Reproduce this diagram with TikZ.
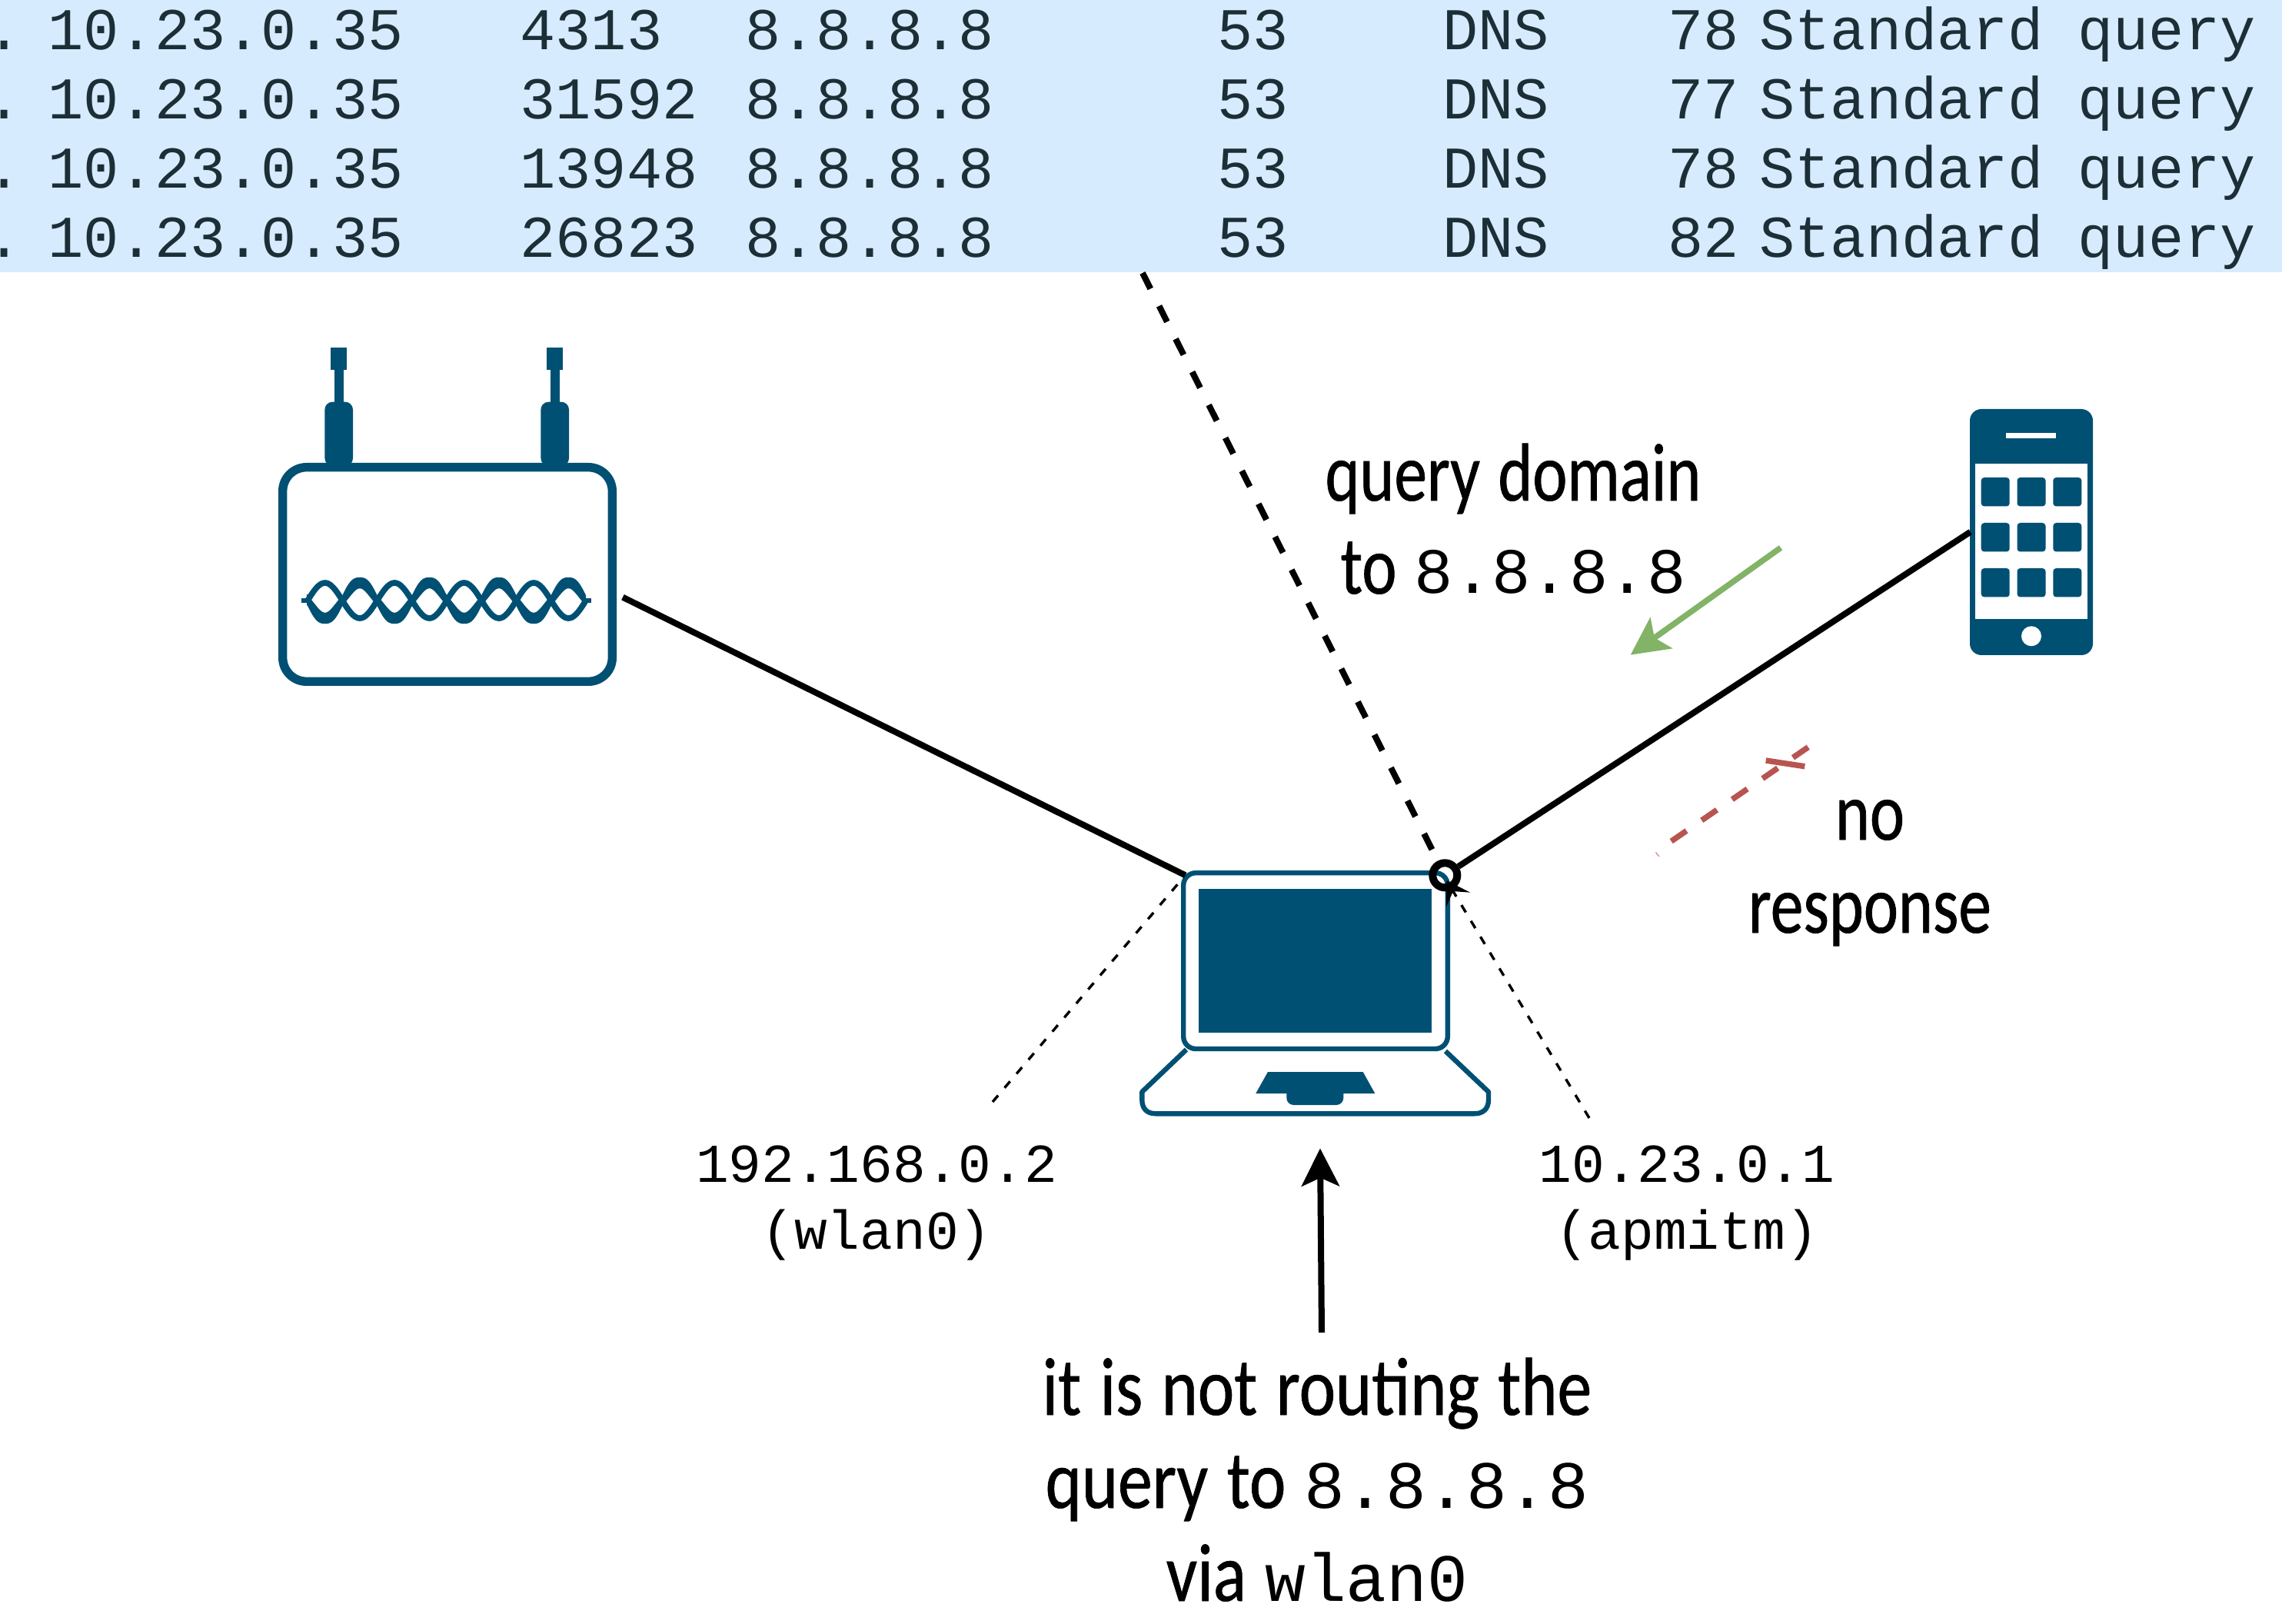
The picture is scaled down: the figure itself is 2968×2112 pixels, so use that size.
\documentclass[tikz,border=0pt]{standalone}
\usepackage{fontspec}
\setmainfont{Carlito}
\setmonofont{Liberation Mono}
\newfontfamily\handfont[FakeStretch=0.84,FakeBold=0.6,WordSpace=1.2]{Carlito}
\newfontfamily\handnarrow[FakeStretch=0.8,FakeBold=0.6,WordSpace=1.2]{Carlito}
\usetikzlibrary{arrows.meta}
\definecolor{iconblue}{HTML}{005073}
\definecolor{rowblue}{HTML}{D7EBFF}
\definecolor{rowtext}{HTML}{1C2E36}
\definecolor{greenarrow}{HTML}{82B366}
\definecolor{redline}{HTML}{B85450}
\tikzset{
  x=0.5pt,y=-0.5pt,
  declare function={tw(\x)=cos((\x-422.7)/45.24*180); tc(\x)=sin((\x-422.7)/45.24*180); th(\x)=(3.6+3.6*abs(tw(\x)))*sqrt(1+2.56*tc(\x)*tc(\x));},
  cell/.style={anchor=base west,inner sep=0pt,text=rowtext,font=\ttfamily\fontsize{38.5}{46}\selectfont},
  handlabel/.style={anchor=base,inner sep=0pt,align=center,font=\handfont\fontsize{53.5}{60.5}\selectfont},
  narrowlabel/.style={anchor=base,inner sep=0pt,align=center,font=\handnarrow\fontsize{53.5}{60.5}\selectfont},
  iplabel/.style={anchor=base,inner sep=0pt,align=center,font=\ttfamily\fontsize{35.6}{43.5}\selectfont},
  iconline/.style={draw=iconblue,line width=3.2pt,fill=none},
  wire/.style={draw=black,line width=4pt},
  thinwire/.style={draw=black,line width=1.7pt,dash pattern=on 5.5pt off 6.5pt},
  bigtip/.style={-{Stealth[length=24.5pt,width=24.5pt,inset=5.4pt]}},
  smalltip/.style={-{Stealth[length=14.5pt,width=18pt,inset=6.3pt]}},
}
\newcommand{\ipmono}[2]{{\ttfamily\fontsize{#1}{60.5}\selectfont #2}}
\begin{document}
\begin{tikzpicture}
\useasboundingbox (0,0) rectangle (2968,2112);
% packet table
\fill[rowblue] (0,0) rectangle (2968,354);
\foreach \yy/\sport/\len in {65/4313/78,155/31592/77,245/13948/78,335/26823/82}{
  \node[cell] at (-18,\yy) {.};
  \node[cell] at (62,\yy) {10.23.0.35};
  \node[cell] at (676,\yy) {\sport};
  \node[cell] at (969,\yy) {8.8.8.8};
  \node[cell] at (1583,\yy) {53};
  \node[cell] at (1876,\yy) {DNS};
  \node[cell] at (2169,\yy) {\len};
  \node[cell] at (2288,\yy) {Standard};
  \node[cell] at (2702,\yy) {query};
}
% router
\node[draw=iconblue,line width=5.7pt,rounded corners=15.5pt,minimum width=214.3pt,minimum height=139.3pt,inner sep=0pt] (router) at (582,747) {};
\foreach \ax in {440.7,721.7}{
  \fill[iconblue] (\ax-10.5,452) rectangle (\ax+10.5,481);
  \fill[iconblue] (\ax-6,480) rectangle (\ax+6,525);
  \fill[iconblue,rounded corners=5pt] (\ax-18.3,606) -- (\ax-18.3,522.7) -- (\ax+18.3,522.7) -- (\ax+18.3,606) -- cycle;
}
\draw[draw=iconblue,line width=3.8pt] plot[domain=400:762,samples=220] (\x,{781-23*tw(\x)});
\fill[iconblue] plot[domain=399:762,samples=220] (\x,{781+23*tw(\x)-th(\x)}) -- plot[domain=762:399,samples=220] (\x,{781+23*tw(\x)+th(\x)}) -- cycle;
\fill[iconblue] (392,778) rectangle (402,784);
\fill[iconblue] (759,778) rectangle (769,784);
% phone
\node[fill=iconblue,rounded corners=7.5pt,minimum width=80pt,minimum height=160pt,inner sep=0pt] (phone) at (2642,692) {};
\fill[white] (2609,562.7) rectangle (2673.7,570.3);
\fill[white] (2569.3,603) rectangle (2714.7,804.7);
\fill[white] (2642,827.3) circle[radius=6.5pt];
\foreach \ix in {2576.7,2623.5,2670.3}{
  \foreach \iy in {621,680,739}{
    \fill[iconblue,rounded corners=2pt] (\ix,\iy) rectangle (\ix+37,\iy+37.5);
  }
}
% laptop
\node[draw=iconblue,line width=3.2pt,rounded corners=8pt,minimum width=171.8pt,minimum height=114.4pt,inner sep=0pt] (laptop) at (1711,1249.6) {};
\node[fill=iconblue,minimum width=151.3pt,minimum height=93.3pt,inner sep=0pt] (screen) at (1710.3,1249.7) {};
\draw[iconline,line join=round] (1543,1365) -- (1485.3,1420) -- (1485.3,1430) .. controls (1485.3,1442) and (1492,1448.3) .. (1503,1448.3) -- (1918,1448.3) .. controls (1929,1448.3) and (1936,1442) .. (1936,1430) -- (1936,1420) -- (1880,1367);
\fill[iconblue] (1649,1394) -- (1772.7,1394) -- (1788.3,1422) -- (1747.3,1422) -- (1747.3,1428) .. controls (1747.3,1433) and (1743,1437) .. (1738.3,1437) -- (1682.3,1437) .. controls (1677.5,1437) and (1673.3,1433) .. (1673.3,1428) -- (1673.3,1422) -- (1633.3,1422) -- cycle;
% named ends
\coordinate (routerend) at (810,776.7);
\coordinate (laptopwest) at (1541.7,1138.3);
\coordinate (phoneend) at (2562.7,691.7);
\coordinate (tabletop) at (1486,355);
\coordinate (westfar) at (1291,1433);
\coordinate (westnear) at (1535,1146);
\coordinate (eastfar) at (2067,1454);
\coordinate (porttip) at (1881.5,1145);
\coordinate (greenstart) at (2316,712.3);
\coordinate (greenend) at (2120.7,851.7);
\coordinate (redstart) at (2351.7,971.7);
\coordinate (redend) at (2165,1100);
\coordinate (barwest) at (2296.7,989);
\coordinate (bareast) at (2347.3,996.7);
\coordinate (sliverw) at (2153.5,1108.5);
\coordinate (slivere) at (2158,1114);
\coordinate (notefrom) at (1719,1733);
\coordinate (noteto) at (1717,1493.5);
% connectors
\node[circle,draw=black,line width=5pt,minimum size=16pt,inner sep=0pt,fill=none] (port) at (1879.3,1138.3) {};
\draw[wire] (routerend) -- (laptopwest);
\draw[wire] (phoneend) -- (port);
\draw[wire,dash pattern=on 11.5pt off 12.5pt] (tabletop) -- (port);
\draw[thinwire] (westfar) -- (westnear);
\draw[thinwire,smalltip] (eastfar) -- (porttip);
\draw[draw=greenarrow,line width=3.8pt,bigtip] (greenstart) -- (greenend);
\draw[draw=redline,line width=3.7pt,dash pattern=on 12pt off 12pt] (redstart) -- (redend);
\draw[draw=redline,line width=3.7pt] (barwest) -- (bareast);
\draw[draw=redline,line width=0.4pt] (sliverw) -- (slivere);
\draw[draw=black,line width=4pt,bigtip] (notefrom) -- (noteto);
% labels
\node[narrowlabel] (lquery) at (1968,772) {query domain\\to \ipmono{42}{8.8.8.8}};
\node[narrowlabel] (lnone) at (2432,1213) {no\\response};
\node[iplabel] (lwlan) at (1140,1624) {192.168.0.2\\(wlan0)};
\node[iplabel] (lap) at (2194,1624) {10.23.0.1\\(apmitm)};
\node[handlabel] (lroute) at (1713,2082) {it is not routing the\\query to \ipmono{44}{8.8.8.8}\\via \ipmono{44}{wlan0}};
\end{tikzpicture}
\end{document}
